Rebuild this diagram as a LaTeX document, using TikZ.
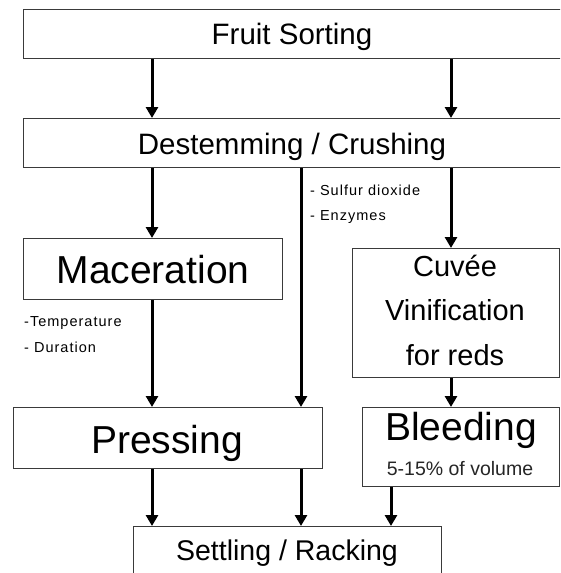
\documentclass[tikz,border=0pt]{standalone}
\usepackage{fontspec}
\setmainfont{Liberation Sans}
\usetikzlibrary{arrows.meta}
\definecolor{boxc}{HTML}{3A3A3A}
\tikzset{
  box/.style={draw=boxc, line width=1.2pt, fill=white, inner sep=0pt, anchor=north west},
  big/.style={inner sep=0pt, anchor=base, font=\fontsize{39}{44}\selectfont},
  mid/.style={inner sep=0pt, anchor=base, font=\fontsize{29.5}{36}\selectfont},
  note/.style={inner sep=0pt, anchor=base west, font=\fontsize{14.5}{17}\selectfont\addfontfeatures{LetterSpace=7}},
  arr/.style={line width=3pt, -{Triangle[length=11pt,width=12pt]}}
}
\begin{document}
\begin{tikzpicture}[x=1pt,y=-1pt]
\useasboundingbox (0,0) rectangle (560,573);
\clip (0,0) rectangle (560,573);
\fill[white] (0,0) rectangle (560,573);
% boxes
\node[box, minimum width=539pt, minimum height=49pt] (fruit) at (23,9) {};
\node[box, minimum width=539pt, minimum height=49pt] (destem) at (23,118) {};
\node[box, minimum width=259pt, minimum height=61pt] (mac) at (23,238) {};
\node[box, minimum width=207pt, minimum height=129pt] (cuvee) at (352,248) {};
\node[box, minimum width=309pt, minimum height=61pt] (press) at (13,407) {};
\node[box, minimum width=197pt, minimum height=79pt] (bleed) at (362,407) {};
\node[box, minimum width=308pt, minimum height=60pt] (settle) at (133,526) {};
% texts
\node[mid] (fruitT) at (292,44) {Fruit Sorting};
\node[mid] (destemT) at (292,154) {Destemming / Crushing};
\node[big] (macT) at (153,283) {Maceration};
\node[mid, font=\fontsize{29}{36}\selectfont] (cuveeT1) at (455,276) {Cuvée};
\node[mid, font=\fontsize{29}{36}\selectfont] (cuveeT2) at (455,320) {Vinification};
\node[mid, font=\fontsize{29}{36}\selectfont] (cuveeT3) at (455,365) {for reds};
\node[big] (pressT) at (167,453) {Pressing};
\node[big] (bleedT) at (461,440) {Bleeding};
\node[inner sep=0pt, anchor=base, font=\fontsize{19.5}{22}\selectfont, text=black!85] (bleedT2) at (460,475) {5-15\% of volume};
\node[mid, font=\fontsize{28.5}{34}\selectfont] (settleT) at (287,560) {Settling / Racking};
% notes
\node[note] (n1) at (310,195) {- Sulfur dioxide};
\node[note] (n2) at (310,220) {- Enzymes};
\node[note] (n3) at (24,326) {-Temperature};
\node[note] (n4) at (24,352) {- Duration};
% columns
\coordinate (cA) at (152,0);
\coordinate (cB) at (301,0);
\coordinate (cC) at (451,0);
\coordinate (cD) at (391,0);
% arrows
\draw[arr] (fruit.south -| cA) -- (destem.north -| cA);
\draw[arr] (fruit.south -| cC) -- (destem.north -| cC);
\draw[arr] (destem.south -| cA) -- (mac.north -| cA);
\draw[arr] (destem.south -| cB) -- (press.north -| cB);
\draw[arr] (destem.south -| cC) -- (cuvee.north -| cC);
\draw[arr] (mac.south -| cA) -- (press.north -| cA);
\draw[arr] (cuvee.south -| cC) -- (bleed.north -| cC);
\draw[arr] (press.south -| cA) -- (settle.north -| cA);
\draw[arr] (press.south -| cB) -- (settle.north -| cB);
\draw[arr] (bleed.south -| cD) -- (settle.north -| cD);
\end{tikzpicture}
\end{document}
